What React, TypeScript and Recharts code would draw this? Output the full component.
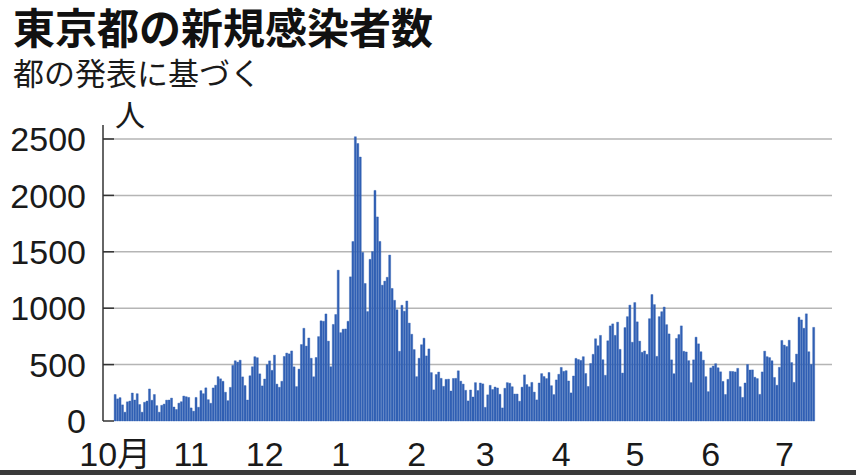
import React from "react";
import { BarChart, Bar, XAxis, YAxis, CartesianGrid } from "recharts";

const oct2020 = [235,196,207,143,78,170,177,248,186,242,146,78,166,177,284,184,235,136,78,139,150,185,186,203,124,102,158,171,221,215,209];
const nov2020 = [116,87,209,122,269,242,294,189,157,293,317,393,374,352,255,180,298,493,534,522,539,391,314,186,401,481,570,561,418,311];
const dec2020 = [372,500,533,449,584,327,299,352,572,602,595,621,480,305,460,678,822,664,736,556,392,563,748,888,884,949,708,481,856,944,1337];
const jan2021 = [783,814,816,884,1278,1591,2520,2460,2340,1494,1219,970,1433,1502,2044,1809,1592,1204,1240,1274,1471,1175,1070,986,618,1026,973,1064,868,769,633];
const feb2021 = [393,556,676,734,577,639,429,276,412,434,378,307,369,371,266,377,378,445,353,327,272,178,275,213,340,270,337,329];
const mar2021 = [121,232,316,279,301,293,237,116,290,340,335,304,239,239,175,300,409,323,303,342,256,187,337,420,394,376,430,313,234,364,414];
const apr2021 = [475,440,446,355,249,399,555,545,537,570,421,306,510,591,729,667,759,543,405,711,843,861,759,876,635,425,828,925,1027,698];
const may2021 = [1050,879,708,609,621,591,907,1121,1032,573,925,969,1010,854,772,542,419,732,766,843,618,612,535,340,542,743,684,614,539,393,260];
const jun2021 = [471,487,508,472,436,351,235,369,440,439,435,467,304,209,337,501,452,453,388,376,236,435,619,570,562,534,386,317,476,714];
const jul2021 = [673,660,716,518,342,593,920,896,822,950,614,502,830];

const monthNums = [10, 11, 12, 1, 2, 3, 4, 5, 6, 7];
const monthLabels = ["10月", "11", "12", "1", "2", "3", "4", "5", "6", "7"];
const monthSeries = [oct2020, nov2020, dec2020, jan2021, feb2021, mar2021, apr2021, may2021, jun2021, jul2021];
const yTicks = [0, 500, 1000, 1500, 2000, 2500];
const gridValues = [500, 1000, 1500, 2000, 2500];

const data = monthSeries.flatMap((vals, m) =>
  vals.map((v, i) => ({ day: `${monthNums[m]}/${i + 1}`, cases: v }))
);
const monthTicks = monthNums.map((m) => `${m}/1`);
const labelFor = (v: string) => {
  const idx = monthTicks.indexOf(v);
  return idx >= 0 ? monthLabels[idx] : "";
};

const FONT = "'Liberation Sans', Arial, 'Noto Sans CJK JP', sans-serif";
const CJK = "'Noto Sans CJK JP', sans-serif";
const BAR = "#3160b4";

const YTick = (props: any) => {
  const { y, payload } = props;
  return (
    <g>
      <line x1={103} x2={114} y1={y} y2={y} stroke="#333" strokeWidth={1.5} />
      <text x={86} y={y} dy="0.36em" textAnchor="end" fontSize={34} fill="#1a1a1a" fontFamily={FONT}>
        {payload.value}
      </text>
    </g>
  );
};

const XTick = (props: any) => {
  const { x, payload } = props;
  return (
    <text x={x} y={466} textAnchor="middle" fontSize={34} fill="#1a1a1a" fontFamily={FONT}>
      {labelFor(payload.value)}
    </text>
  );
};

export default function App() {
  return (
    <div style={{ position: "absolute", left: 0, top: 0, width: 856, height: 475, background: "#fff", overflow: "hidden" }}>
      <div style={{ position: "absolute", left: 13, top: 2, fontSize: 42, lineHeight: "48px", fontWeight: 700, fontFamily: CJK, color: "#111", whiteSpace: "nowrap" }}>
        東京都の新規感染者数
      </div>
      <div style={{ position: "absolute", left: 13, top: 54, fontSize: 31, lineHeight: "36px", fontFamily: CJK, color: "#1a1a1a", whiteSpace: "nowrap" }}>
        都の発表に基づく
      </div>
      <div style={{ position: "absolute", left: 115, top: 98, fontSize: 30, lineHeight: "30px", fontFamily: CJK, color: "#1a1a1a", whiteSpace: "nowrap" }}>
        人
      </div>
      <div style={{ position: "absolute", left: 0, top: 0 }}>
        <BarChart
          width={856}
          height={475}
          data={data}
          margin={{ top: 125, right: 24, bottom: 14, left: 0 }}
          barCategoryGap="6%"
        >
          <CartesianGrid vertical={false} horizontalValues={gridValues} stroke="#b5b5b5" strokeWidth={1.5} />
          <XAxis
            dataKey="day"
            ticks={monthTicks}
            interval={0}
            axisLine={false}
            tickLine={false}
            height={40}
            padding={{ left: 11, right: 17 }}
            tick={<XTick />}
          />
          <YAxis
            width={103}
            domain={[0, 2624]}
            ticks={yTicks}
            axisLine={{ stroke: "#333", strokeWidth: 1.5 }}
            tickLine={false}
            tick={<YTick />}
          />
          <Bar dataKey="cases" fill={BAR} stroke={BAR} strokeWidth={0.4} isAnimationActive={false} />
        </BarChart>
      </div>
      <div style={{ position: "absolute", left: 0, top: 470, width: 856, height: 5, background: "#3a3a3a" }} />
    </div>
  );
}
